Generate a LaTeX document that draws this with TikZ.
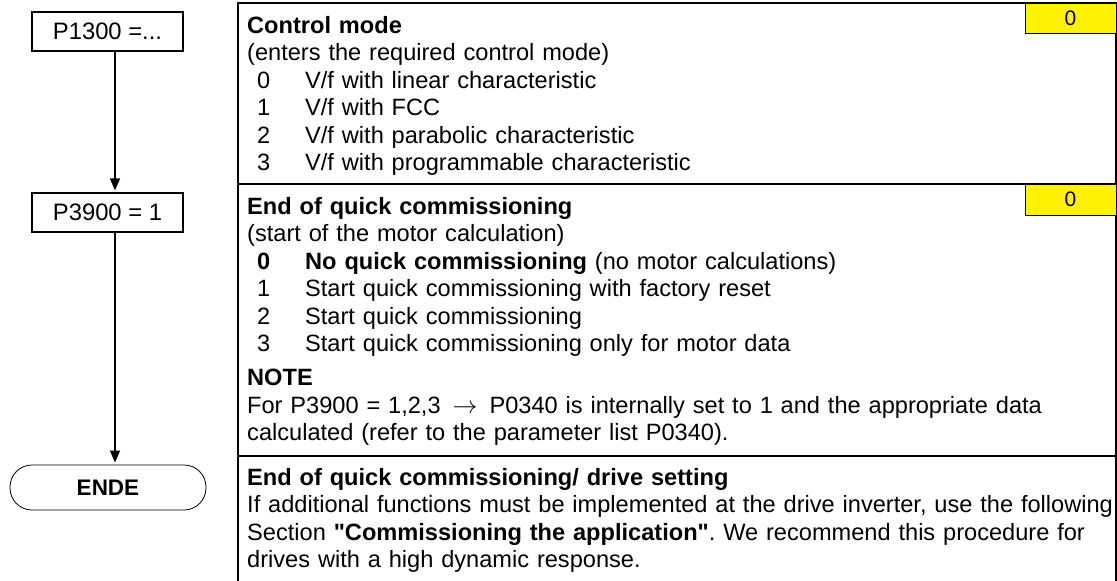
\documentclass[tikz,border=0pt]{standalone}
\usepackage{fontspec}
\setmainfont{Liberation Sans}[Ligatures=TeXOff]
\usetikzlibrary{arrows.meta}
\newcommand\myitem[1]{\hspace*{10pt}\makebox[48pt][l]{#1}}
\frenchspacing
\begin{document}
\begin{tikzpicture}[x=1pt,y=-1pt,
  tline/.style={line width=1.2pt},
  fbox/.style={draw, line width=1.1pt, minimum width=151pt, minimum height=39pt, inner sep=0pt, font=\fontsize{23.8}{27.5}\selectfont},
  endbox/.style={draw, line width=0.8pt, rounded corners=22pt, minimum width=196pt, minimum height=45pt, inner sep=0pt, font=\fontsize{22.5}{27}\selectfont\bfseries},
  ybox/.style={draw, line width=0.9pt, fill=yellow, minimum width=91pt, minimum height=30pt, inner sep=0pt, font=\fontsize{21}{24}\selectfont},
  rowtext/.style={anchor=north west, inner sep=0pt, text width=880pt, align=left, font=\fontsize{23.6}{27.5}\selectfont\frenchspacing},
  arr/.style={line width=1.3pt, -{Triangle[width=10pt,length=12pt]}, shorten >=2pt}
]
\useasboundingbox (0,0) rectangle (1117,581);
\fill[white] (0,0) rectangle (1117,581);

% table frame
\draw[tline] (238,581) -- (238,3) -- (1116,3) -- (1116,581);
\draw[tline] (238,184) -- (1116,184);
\draw[tline] (238,456) -- (1116,456);

% yellow default-value boxes
\node[ybox] (y1) at (1070.5,18) {0};
\node[ybox, minimum height=31pt] (y2) at (1070.5,199.5) {0};

% row texts
\node[rowtext] (rowA) at (247,13) {\noindent\rule{0pt}{20pt}\textbf{Control mode}\\
(enters the required control mode)\\
\myitem{0}V/f with linear characteristic\\
\myitem{1}V/f with FCC\\
\myitem{2}V/f with parabolic characteristic\\
\myitem{3}V/f with programmable characteristic};

\node[rowtext] (rowB) at (247,194) {\noindent\rule{0pt}{20pt}\textbf{End of quick commissioning}\\
(start of the motor calculation)\\
\myitem{\textbf{0}}\textbf{No quick commissioning} (no motor calculations)\\
\myitem{1}Start quick commissioning with factory reset\\
\myitem{2}Start quick commissioning\\
\myitem{3}Start quick commissioning only for motor data\\[6.5pt]
\textbf{NOTE}\\
For P3900 = 1,2,3\hspace{12pt}$\rightarrow$\hspace{12pt}P0340 is internally set to 1 and the appropriate data\\
calculated (refer to the parameter list P0340).};

\node[rowtext] (rowC) at (247,465) {\noindent\rule{0pt}{20pt}\textbf{End of quick commissioning/ drive setting}\\
If additional functions must be implemented at the drive inverter, use the following\\
Section \textbf{"Commissioning the application"}. We recommend this procedure for\\
drives with a high dynamic response.};

% flowchart
\node[fbox] (p1300) at (107.5,31.5) {P1300 =...};
\node[fbox] (p3900) at (107.5,212.5) {P3900 = 1};
\node[endbox] (ende) at (108,487.5) {ENDE};
\coordinate (ax) at (115,0);
\draw[arr] (p1300.south -| ax) -- (p3900.north -| ax);
\draw[arr] (p3900.south -| ax) -- (ende.north -| ax);
\end{tikzpicture}
\end{document}
